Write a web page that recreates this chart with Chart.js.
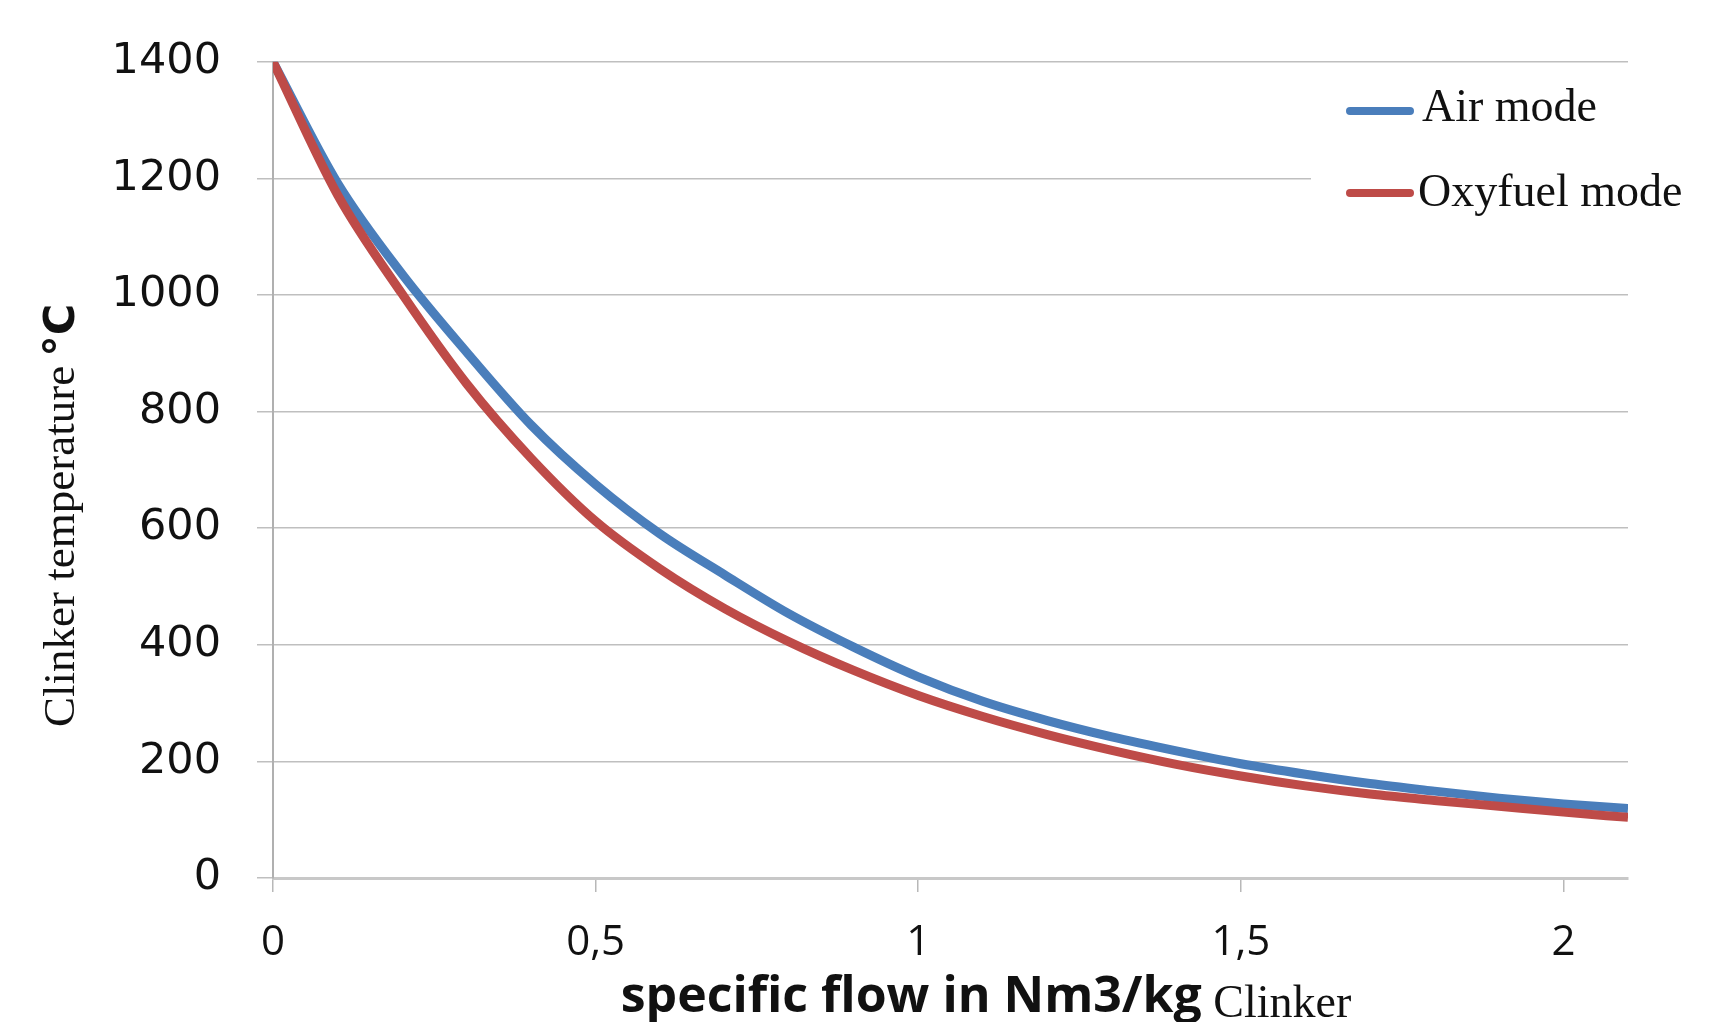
<!DOCTYPE html>
<html>
<head>
<meta charset="utf-8">
<script src="https://cdn.jsdelivr.net/npm/chart.js@4"></script>
<style>
  html, body { margin: 0; padding: 0; background: #fff; }
  #wrap { width: 1728px; height: 1022px; }
</style>
</head>
<body>
<div id="wrap"><canvas id="lineChart" width="1728" height="1022"></canvas></div>
<script>
// specific flow in Nm3/kg clinker
var flow = [0, 0.1, 0.2, 0.3, 0.4, 0.5, 0.6, 0.7, 0.8, 0.9, 1.0,
            1.1, 1.2, 1.3, 1.4, 1.5, 1.6, 1.7, 1.8, 1.9, 2.0, 2.1];
// clinker temperature in °C
var airMode = [1400, 1192, 1036, 902, 777, 675, 590, 520, 453, 396, 345,
               303, 270, 242, 218, 196, 178, 162, 149, 137, 127, 119];
var oxyfuelMode = [1400, 1172, 1002, 848, 720, 612, 530, 462, 405, 356, 313,
                   277, 246, 219, 195, 175, 158, 144, 133, 123, 113, 104];
var xTicks = [0, 0.5, 1, 1.5, 2];

function toPoints(ys) {
    return flow.map(function (x, i) { return { x: x, y: ys[i] }; });
}

var blue = '#4a7ebb';
var red = '#be4b48';

var labelsPlugin = {
    id: 'labelsPlugin',
    afterDraw: function (chart) {
        var ctx = chart.ctx;
        ctx.save();

        // legend box
        ctx.fillStyle = '#fff';
        ctx.fillRect(1311, 72, 417, 160);
        ctx.lineCap = 'round';
        ctx.lineWidth = 8;
        ctx.strokeStyle = blue;
        ctx.beginPath(); ctx.moveTo(1350, 111); ctx.lineTo(1410, 111); ctx.stroke();
        ctx.strokeStyle = red;
        ctx.beginPath(); ctx.moveTo(1350, 193); ctx.lineTo(1410, 193); ctx.stroke();
        ctx.fillStyle = '#111';
        ctx.font = '46px "Liberation Serif"';
        ctx.textBaseline = 'middle';
        ctx.textAlign = 'left';
        ctx.fillText('Air mode', 1422, 109);
        ctx.fillText('Oxyfuel mode', 1418, 194);

        // x axis title, two fonts
        var t1 = 'specific flow in Nm3/kg';
        var t2 = ' Clinker';
        ctx.textBaseline = 'alphabetic';
        ctx.font = 'bold 50px "Open Sans"';
        var w1 = ctx.measureText(t1).width;
        ctx.font = '46px "Liberation Serif"';
        var w2 = ctx.measureText(t2).width;
        var x0 = 986 - (w1 + w2) / 2;
        ctx.font = 'bold 50px "Open Sans"';
        ctx.fillText(t1, x0, 1012);
        ctx.font = '46px "Liberation Serif"';
        ctx.fillText(t2, x0 + w1, 1017);

        // y axis title, rotated
        ctx.translate(74, 727);
        ctx.rotate(-Math.PI / 2);
        ctx.font = '45px "Liberation Serif"';
        var s1 = 'Clinker temperature ';
        var ws1 = ctx.measureText(s1).width;
        ctx.fillText(s1, 0, 0);
        ctx.font = 'bold 43px "DejaVu Sans"';
        ctx.fillText('°C', ws1 - 2, 0);

        ctx.restore();
    }
};

var ctx = document.getElementById('lineChart').getContext('2d');
var myChart = new Chart(ctx, {
    type: 'line',
    data: {
        datasets: [{
            label: 'Air mode',
            data: toPoints(airMode),
            borderColor: blue,
            borderWidth: 9,
            pointRadius: 0,
            cubicInterpolationMode: 'monotone',
            order: 2
        }, {
            label: 'Oxyfuel mode',
            data: toPoints(oxyfuelMode),
            borderColor: red,
            borderWidth: 9,
            pointRadius: 0,
            cubicInterpolationMode: 'monotone',
            order: 1
        }]
    },
    options: {
        responsive: false,
        animation: false,
        layout: { padding: { top: 61, right: 100, left: 0, bottom: 0 } },
        plugins: { legend: { display: false }, tooltip: { enabled: false } },
        scales: {
            x: {
                type: 'linear',
                min: 0,
                max: 2.1,
                afterBuildTicks: function (scale) {
                    scale.ticks = xTicks.map(function (v) { return { value: v }; });
                },
                afterFit: function (scale) { scale.height = 144; },
                ticks: {
                    callback: function (v) { return String(v).replace('.', ','); },
                    font: { family: 'Open Sans', size: 42, lineHeight: 1.2 },
                    color: '#111',
                    padding: 26,
                    maxRotation: 0
                },
                grid: { drawOnChartArea: false, drawTicks: true, tickLength: 14, color: '#b8b8b8', lineWidth: 1.5 },
                border: { display: true, color: '#c8c8c8', width: 3 }
            },
            y: {
                min: 0,
                max: 1400,
                ticks: {
                    stepSize: 200,
                    callback: function (v) { return String(v); },
                    font: { family: 'DejaVu Sans', size: 43 },
                    color: '#111',
                    padding: 36
                },
                afterFit: function (scale) { scale.width = 273; },
                grid: { color: '#bfbfbf', lineWidth: 1.5, tickLength: 16 },
                border: { display: true, color: '#b0b0b0', width: 2 }
            }
        }
    },
    plugins: [labelsPlugin]
});
</script>
</body>
</html>
